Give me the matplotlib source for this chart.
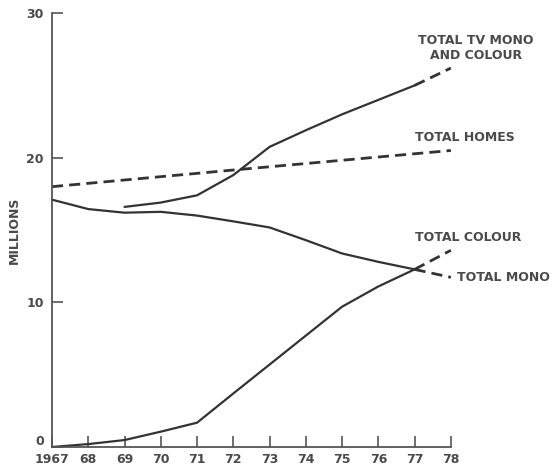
import matplotlib.pyplot as plt
from matplotlib.transforms import ScaledTranslation

# values (millions)
years_homes = [1967, 1972, 1978]
total_homes = [18.0, 19.15, 20.5]

years_tv = [1969, 1970, 1971, 1972, 1973, 1974, 1975, 1976, 1977]
total_tv = [16.6, 16.9, 17.4, 18.8, 20.75, 21.9, 23.0, 24.0, 25.0]
years_tv_proj = [1977, 1978]
total_tv_proj = [25.0, 26.2]

years_mono = [1967, 1968, 1969, 1970, 1971, 1972, 1973, 1974, 1975, 1976, 1977]
total_mono = [17.1, 16.45, 16.2, 16.26, 16.0, 15.6, 15.18, 14.3, 13.38, 12.8, 12.28]
years_mono_proj = [1977, 1978]
total_mono_proj = [12.28, 11.73]

years_colour = [1967, 1968, 1969, 1970, 1971, 1972, 1973, 1974, 1975, 1976, 1977]
total_colour = [0.0, 0.2, 0.48, 1.06, 1.68, 3.7, 5.7, 7.7, 9.7, 11.1, 12.28]
years_colour_proj = [1977, 1978]
total_colour_proj = [12.28, 13.6]

xtick_vals = list(range(1967, 1979))
xtick_labels = ['1967'] + [str(y)[2:] for y in range(1968, 1979)]
ytick_vals = [0, 10, 20, 30]

ink = '#333333'
txt = '#4a4a4a'

fig = plt.figure(figsize=(5.58, 4.68), dpi=100)
ax = fig.add_axes([0.0932, 0.0449, 0.808 - 0.0932, 0.972 - 0.0449])

solid = dict(color=ink, linewidth=1.6, solid_capstyle='round', clip_on=False)
dashed = dict(color=ink, linewidth=2.0, linestyle=(0, (4, 2.2)), clip_on=False)

ax.plot(years_homes, total_homes, **dashed)
ax.plot(years_tv, total_tv, **solid)
ax.plot(years_tv_proj, total_tv_proj, **dashed)
ax.plot(years_mono, total_mono, **solid)
ax.plot(years_mono_proj, total_mono_proj, **dashed)
ax.plot(years_colour, total_colour, **solid)
ax.plot(years_colour_proj, total_colour_proj, **dashed)

ax.set_xlim(1967, 1978)
ax.set_ylim(0, 30)

for side in ['top', 'right']:
    ax.spines[side].set_visible(False)
for side in ['left', 'bottom']:
    ax.spines[side].set_color('#555555')
    ax.spines[side].set_linewidth(1.3)

ax.set_xticks(xtick_vals)
ax.set_xticklabels(xtick_labels, fontweight='bold')
ax.set_yticks(ytick_vals)
ax.set_yticklabels([str(v) for v in ytick_vals], fontweight='bold')
ax.tick_params(axis='both', direction='in', length=8, width=1.2, colors='#555555',
               labelcolor=txt, labelsize=9)
ax.tick_params(axis='x', pad=4)
ax.tick_params(axis='y', pad=6)

# lift the "0" label a little so it sits clear of "1967"
zero_lbl = ax.get_yticklabels()[0]
zero_lbl.set_transform(zero_lbl.get_transform() + ScaledTranslation(0, 5 / 72, fig.dpi_scale_trans))

ax.set_ylabel('MILLIONS', fontsize=9, fontweight='bold', color=txt, labelpad=4)

lab = dict(fontsize=9, fontweight='bold', color=txt, clip_on=False)
ax.text(1978.7, 27.6, 'TOTAL TV MONO\nAND COLOUR', ha='center', va='center',
        linespacing=1.15, **lab)
ax.text(1977.0, 21.4, 'TOTAL HOMES', ha='left', va='center', **lab)
ax.text(1977.0, 14.47, 'TOTAL COLOUR', ha='left', va='center', **lab)
ax.text(1978.16, 11.75, 'TOTAL MONO', ha='left', va='center', **lab)

fig.savefig('out.png', dpi=100)
